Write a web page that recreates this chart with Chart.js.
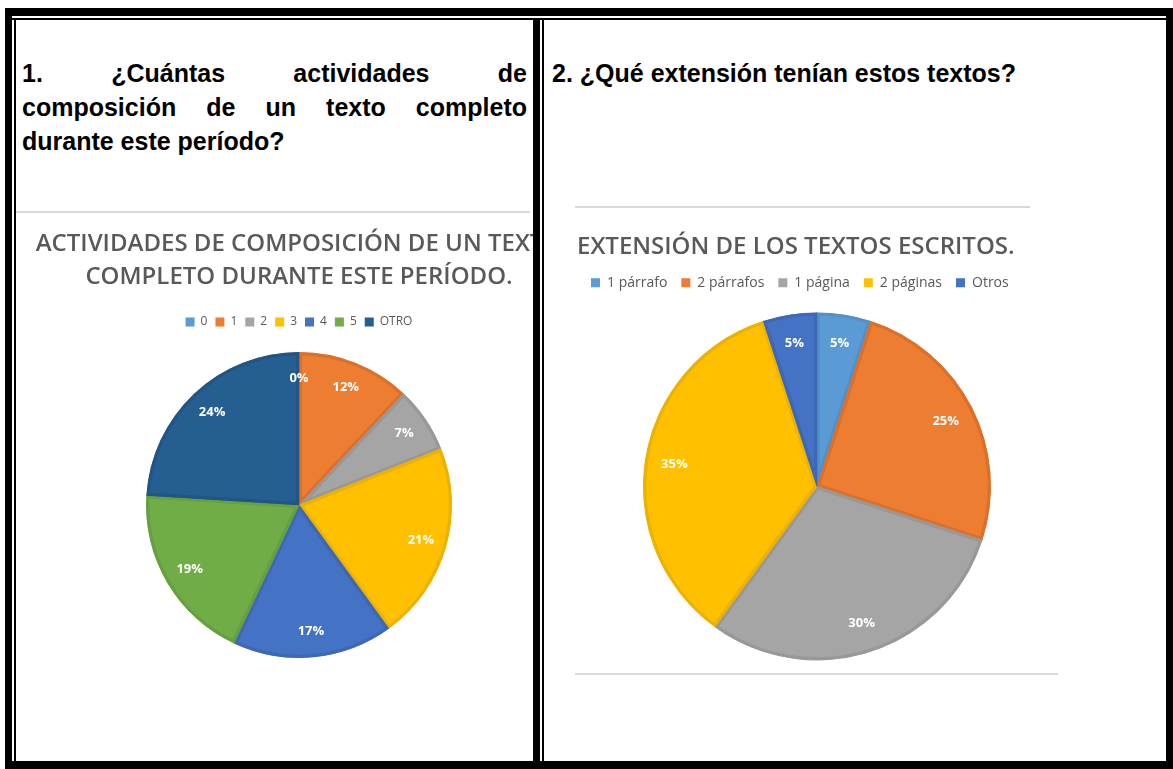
<!DOCTYPE html>
<html>
<head>
<meta charset="utf-8">
<script src="https://cdn.jsdelivr.net/npm/chart.js@4.4.1/dist/chart.umd.min.js"></script>
<style>
    body { margin: 0; background: #fff; width: 1173px; height: 769px; position: relative; overflow: hidden; }
    .bk { position: absolute; background: #000; }
    .q { position: absolute; font-family: Arial, "Liberation Sans", sans-serif; font-weight: bold; font-size: 25px; line-height: 34px; color: #000; }
    .just { text-align: justify; text-align-last: justify; }
    .box { position: absolute; overflow: hidden; }
    .rule { position: absolute; height: 2px; background: #d9d9d9; }
    canvas { position: absolute; }
</style>
</head>
<body>

<!-- marco de la tabla -->
<div class="bk" style="left:5px;top:8px;width:1168px;height:8px"></div>
<div class="bk" style="left:5px;top:18px;width:1168px;height:2px"></div>
<div class="bk" style="left:5px;top:8px;width:7px;height:761px"></div>
<div class="bk" style="left:14px;top:18px;width:2px;height:745px"></div>
<div class="bk" style="left:533px;top:18px;width:7px;height:751px"></div>
<div class="bk" style="left:542px;top:18px;width:2px;height:745px"></div>
<div class="bk" style="left:1166px;top:8px;width:7px;height:761px"></div>
<div class="bk" style="left:5px;top:761px;width:1168px;height:8px"></div>

<div class="q" style="left:22px;top:56px;width:505px">
    <div class="just">1. ¿Cuántas actividades de</div>
    <div class="just">composición de un texto completo</div>
    <div>durante este período?</div>
</div>
<div class="q" style="left:552px;top:56px">2. ¿Qué extensión tenían estos textos?</div>

<div class="box" style="left:16px;top:211px;width:517px;height:548px">
    <div class="rule" style="left:0;top:0;width:514px"></div>
    <canvas id="chartActividades" width="566" height="459" style="left:0;top:2px"></canvas>
</div>

<div class="rule" style="left:575px;top:206px;width:455px"></div>
<div class="rule" style="left:575px;top:673px;width:483px"></div>
<canvas id="chartExtension" width="480" height="465" style="left:577px;top:208px"></canvas>

<script>
const actividadesLabels = ['0', '1', '2', '3', '4', '5', 'OTRO'];
const actividadesValues = [0, 12, 7, 21, 17, 19, 24];
const actividadesColors = ['#5B9BD5', '#ED7D31', '#A5A5A5', '#FFC000', '#4472C4', '#70AD47', '#255E91'];
const actividadesBorders = ['#5290C8', '#DD7029', '#989898', '#EDB200', '#3E68B5', '#66A03F', '#215585'];

const extensionLabels = ['1 párrafo', '2 párrafos', '1 página', '2 páginas', 'Otros'];
const extensionValues = [5, 25, 30, 35, 5];
const extensionColors = ['#5B9BD5', '#ED7D31', '#A5A5A5', '#FFC000', '#4472C4'];
const extensionBorders = ['#5290C8', '#DD7029', '#989898', '#EDB200', '#3E68B5'];

// etiquetas de porcentaje dentro de cada sector
const pctLabels = {
    id: 'pctLabels',
    afterDatasetsDraw(chart, args, opts) {
        const ctx = chart.ctx;
        const values = chart.data.datasets[0].data;
        ctx.save();
        ctx.font = 'bold 13px "Open Sans"';
        ctx.fillStyle = '#fff';
        ctx.textAlign = 'center';
        ctx.textBaseline = 'middle';
        chart.getDatasetMeta(0).data.forEach((arc, i) => {
            const p = arc.getProps(['x', 'y', 'startAngle', 'endAngle', 'outerRadius'], true);
            const mid = (p.startAngle + p.endAngle) / 2;
            const r = p.outerRadius * opts.dist;
            ctx.fillText(values[i] + '%', p.x + Math.cos(mid) * r, p.y + Math.sin(mid) * r);
        });
        ctx.restore();
    }
};

function legendItems(chart) {
    return Chart.overrides.pie.plugins.legend.labels.generateLabels(chart).map(item => {
        item.lineWidth = 0;
        item.strokeStyle = item.fillStyle;
        return item;
    });
}

function pieOptions(title, titleFont, titlePadding, legendFont, legendPadding, radius, dist, align) {
    return {
        responsive: false,
        animation: false,
        devicePixelRatio: 1,
        layout: { padding: 0 },
        plugins: {
            title: {
                display: true,
                text: title,
                align: align,
                color: '#595959',
                font: titleFont,
                padding: titlePadding
            },
            legend: {
                position: 'top',
                align: align,
                labels: {
                    color: '#595959',
                    boxWidth: 9,
                    boxHeight: 9,
                    padding: legendPadding,
                    font: { family: 'Open Sans', size: legendFont },
                    generateLabels: legendItems
                }
            },
            tooltip: { enabled: false },
            pctLabels: { dist: dist }
        },
        datasets: { pie: { radius: radius } }
    };
}

new Chart(document.getElementById('chartActividades').getContext('2d'), {
    type: 'pie',
    data: {
        labels: actividadesLabels,
        datasets: [{
            data: actividadesValues,
            backgroundColor: actividadesColors,
            borderColor: actividadesBorders,
            borderWidth: 3,
            borderAlign: 'inner'
        }]
    },
    options: pieOptions(['ACTIVIDADES DE COMPOSICIÓN DE UN TEXTO', 'COMPLETO DURANTE ESTE PERÍODO.'],
        { family: 'Open Sans', size: 24, weight: '600', lineHeight: 1.375 },
        { top: 15, bottom: 14 }, 12, 8, 153, 0.83, 'center'),
    plugins: [pctLabels]
});

new Chart(document.getElementById('chartExtension').getContext('2d'), {
    type: 'pie',
    data: {
        labels: extensionLabels,
        datasets: [{
            data: extensionValues,
            backgroundColor: extensionColors,
            borderColor: extensionBorders,
            borderWidth: 3,
            borderAlign: 'inner'
        }]
    },
    options: pieOptions('EXTENSIÓN DE LOS TEXTOS ESCRITOS.',
        { family: 'Open Sans', size: 24, weight: '600', lineHeight: 1.2 },
        { top: 25, bottom: 0 }, 14, 14, 174, 0.83, 'start'),
    plugins: [pctLabels]
});
</script>
</body>
</html>
